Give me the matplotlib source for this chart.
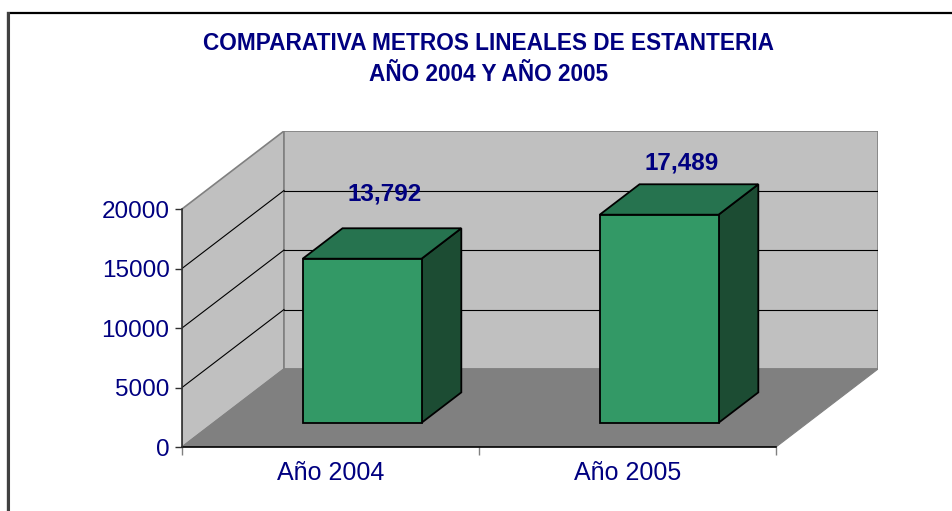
import matplotlib
matplotlib.use("Agg")
import matplotlib.pyplot as plt
from matplotlib.patches import Polygon, Rectangle

plt.rcParams['font.family'] = ['Liberation Sans', 'DejaVu Sans']

# ---- data ----
categories = ["Año 2004", "Año 2005"]
values = [13792, 17489]
yticks = [0, 5000, 10000, 15000, 20000]
title_lines = ["COMPARATIVA METROS LINEALES DE ESTANTERIA", "AÑO 2004 Y AÑO 2005"]

# ---- style / geometry ----
W, H, DPI = 952, 511, 100
navy = "#000080"
wall_c, floor_c, edge_c = "#C0C0C0", "#808080", "#808080"
front_c, top_c, side_c = "#339966", "#26734F", "#1C4C33"
ymax = yticks[-1]
n = len(categories)

# axes placement in pixels (front plane + depth)
ax_left, ax_right, ax_bottom, ax_top = 182, 878, 447, 131
front_right_px, front_top_px = 776, 209
px_per_cat = (front_right_px - ax_left) / n
px_per_val = (ax_bottom - front_top_px) / ymax
Dx = (ax_right - front_right_px) / px_per_cat        # depth in category units
Dy = (front_top_px - ax_top) / px_per_val            # depth in value units
f0, f1 = 0.31, 0.70       # bar depth range (fraction of total depth)
bw = 0.4                  # bar width in category units
label_lift_px = [34, 21]

fig = plt.figure(figsize=(W / DPI, H / DPI), dpi=DPI)
fig.patch.set_facecolor("white")

# outer border
fig.patches.append(Rectangle((8 / W, -0.1), 1.2, (H - 13) / H + 0.1, transform=fig.transFigure,
                             fill=False, edgecolor="black", linewidth=1.6, zorder=0))
fig.add_artist(plt.Line2D([8 / W, 8 / W], [0, (H - 13) / H], transform=fig.transFigure,
                          color="#404040", linewidth=2.2))

ax = fig.add_axes([ax_left / W, (H - ax_bottom) / H, (ax_right - ax_left) / W, (ax_bottom - ax_top) / H])
ax.set_xlim(0, n + Dx)
ax.set_ylim(0, ymax + Dy)
ax.patch.set_alpha(0)

# walls
ax.add_patch(Polygon([(0, 0), (Dx, Dy), (Dx, ymax + Dy), (0, ymax)], closed=True,
                     facecolor=wall_c, edgecolor=edge_c, linewidth=1.2, zorder=0))
ax.add_patch(Polygon([(Dx, Dy), (n + Dx, Dy), (n + Dx, ymax + Dy), (Dx, ymax + Dy)], closed=True,
                     facecolor=wall_c, edgecolor=edge_c, linewidth=1.2, zorder=0))
ax.add_patch(Polygon([(0, 0), (n, 0), (n + Dx, Dy), (Dx, Dy)], closed=True,
                     facecolor=floor_c, edgecolor=floor_c, linewidth=0.8, zorder=1))
# gridlines
for v in yticks[1:-1]:
    ax.plot([0, Dx], [v, v + Dy], color="black", linewidth=0.8, zorder=1)
    ax.plot([Dx, n + Dx], [v + Dy, v + Dy], color="black", linewidth=0.8, zorder=1)

# bars
for i, v in enumerate(values):
    x0, x1 = i + 0.5 - bw / 2, i + 0.5 + bw / 2
    ox0, oy0 = f0 * Dx, f0 * Dy
    ox1, oy1 = f1 * Dx, f1 * Dy
    side = [(x1 + ox0, oy0), (x1 + ox1, oy1), (x1 + ox1, v + oy1), (x1 + ox0, v + oy0)]
    top = [(x0 + ox0, v + oy0), (x1 + ox0, v + oy0), (x1 + ox1, v + oy1), (x0 + ox1, v + oy1)]
    front = [(x0 + ox0, oy0), (x1 + ox0, oy0), (x1 + ox0, v + oy0), (x0 + ox0, v + oy0)]
    for pts, c in ((side, side_c), (top, top_c), (front, front_c)):
        ax.add_patch(Polygon(pts, closed=True, facecolor=c, edgecolor="black",
                             linewidth=1.3, joinstyle="miter", zorder=3))
    ax.annotate(f"{v:,}", xy=(i + 0.5 + (f0 + f1) / 2 * Dx, v + oy1),
                xytext=(2, label_lift_px[i] * 72 / DPI), textcoords="offset points",
                ha="center", va="center", fontsize=17.5, fontweight="bold", color=navy, zorder=5)

# axes spines / ticks
for s in ("top", "right"):
    ax.spines[s].set_visible(False)
ax.spines["left"].set_bounds(0, ymax)
ax.spines["left"].set_color("#303030")
ax.spines["left"].set_linewidth(1.2)
ax.spines["bottom"].set_bounds(0, n)
ax.spines["bottom"].set_color("black")
ax.spines["bottom"].set_linewidth(1.2)
ax.spines["bottom"].set_zorder(2)

ax.set_yticks(yticks)
ax.set_yticklabels([str(t) for t in yticks])
ax.tick_params(axis="y", direction="out", length=5, width=1, color="#303030",
               labelsize=17.5, labelcolor=navy, pad=4)
ax.set_xticks(list(range(n + 1)))
ax.set_xticklabels([""] * (n + 1))
ax.set_xticks([i + 0.5 for i in range(n)], minor=True)
ax.set_xticklabels(categories, minor=True)
ax.tick_params(axis="x", which="major", direction="out", length=6, width=1, color="#808080")
ax.tick_params(axis="x", which="minor", length=0, labelsize=18, labelcolor=navy, pad=10)

# title
fig.text(489 / W, 1 - 43 / H, title_lines[0], ha="center", va="center",
         fontsize=16.3, fontweight="bold", color=navy)
fig.text(489 / W, 1 - 74.5 / H, title_lines[1], ha="center", va="center",
         fontsize=16.3, fontweight="bold", color=navy)

fig.savefig("out.png", dpi=DPI)
